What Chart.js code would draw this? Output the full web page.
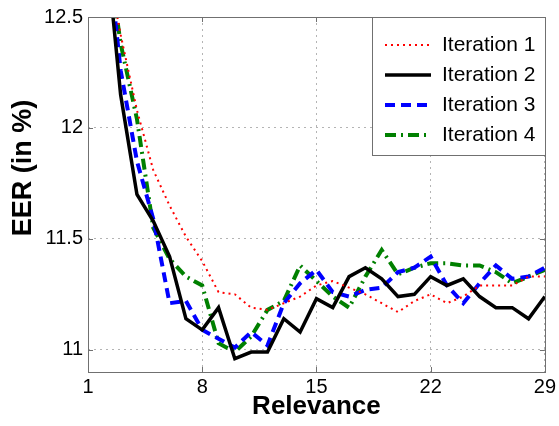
<!DOCTYPE html>
<html>
<head>
<meta charset="utf-8">
<script src="https://cdn.jsdelivr.net/npm/chart.js@4"></script>
<style>
  html, body { margin: 0; padding: 0; background: #fff; }
</style>
</head>
<body>
<canvas id="eerChart" width="559" height="426"></canvas>
<script>
// values (first points run off the top of the axes)
const relevance = [1, 2, 3, 4, 5, 6, 7, 8, 9, 10, 11, 12, 13, 14, 15, 16, 17, 18, 19, 20, 21, 22, 23, 24, 25, 26, 27, 28, 29];
const iter1 = [13.6, 12.82, 12.42, 12.08, 11.81, 11.65, 11.51, 11.4, 11.26, 11.25, 11.19, 11.18, 11.21, 11.24, 11.29, 11.31, 11.28, 11.25, 11.21, 11.17, 11.22, 11.25, 11.21, 11.24, 11.29, 11.29, 11.29, 11.33, 11.33];
const iter2 = [14.2, 12.9, 12.15, 11.7, 11.58, 11.42, 11.14, 11.09, 11.19, 10.96, 10.99, 10.99, 11.14, 11.08, 11.23, 11.19, 11.33, 11.37, 11.32, 11.24, 11.25, 11.33, 11.29, 11.32, 11.24, 11.19, 11.19, 11.14, 11.24];
const iter3 = [13.7, 12.95, 12.26, 11.85, 11.59, 11.21, 11.22, 11.09, 11.05, 11.01, 11.08, 11.02, 11.21, 11.3, 11.36, 11.26, 11.24, 11.27, 11.28, 11.35, 11.37, 11.42, 11.29, 11.21, 11.3, 11.38, 11.32, 11.33, 11.37];
const iter4 = [13.5, 12.9, 12.38, 12.04, 11.55, 11.41, 11.33, 11.29, 11.03, 10.99, 11.06, 11.18, 11.22, 11.38, 11.31, 11.24, 11.19, 11.33, 11.45, 11.34, 11.37, 11.39, 11.39, 11.38, 11.38, 11.35, 11.3, 11.33, 11.36];
const seriesNames = ["Iteration 1", "Iteration 2", "Iteration 3", "Iteration 4"];
const xTicks = [1, 8, 15, 22, 29];
const yTicks = [11, 11.5, 12, 12.5];

const toPoints = ys => ys.map((y, i) => ({ x: relevance[i], y }));
const FONT = "'Liberation Sans', Arial, sans-serif";

// box around the axes, inward tick marks, y title and the legend inside the plot
const frameAndLegend = {
  id: "frameAndLegend",
  afterDatasetsDraw(chart) {
    const { ctx, chartArea: a, scales } = chart;
    const seg = (x1, y1, x2, y2) => { ctx.beginPath(); ctx.moveTo(x1, y1); ctx.lineTo(x2, y2); ctx.stroke(); };
    ctx.save();
    ctx.strokeStyle = "#707070";
    ctx.lineWidth = 1;
    ctx.setLineDash([]);
    ctx.strokeRect(Math.round(a.left) + 0.5, Math.round(a.top) + 0.5, Math.round(a.right - a.left), Math.round(a.bottom - a.top));
    xTicks.forEach(v => {
      const px = Math.round(scales.x.getPixelForValue(v)) + 0.5;
      seg(px, a.bottom, px, a.bottom - 5);
      seg(px, a.top, px, a.top + 5);
    });
    yTicks.forEach(v => {
      const py = Math.round(scales.y.getPixelForValue(v)) + 0.5;
      seg(a.left, py, a.left + 5, py);
      seg(a.right, py, a.right - 5, py);
    });

    // y axis title, sits a bit above the middle like the original
    ctx.save();
    ctx.translate(24, 168);
    ctx.rotate(-Math.PI / 2);
    ctx.font = "bold 27px " + FONT;
    ctx.fillStyle = "#000";
    ctx.textAlign = "center";
    ctx.textBaseline = "middle";
    ctx.fillText("EER (in %)", 0, 0);
    ctx.restore();

    // legend
    const bx = Math.round(a.right) - 173, by = Math.round(a.top), bw = 173, bh = 138;
    ctx.fillStyle = "#fff";
    ctx.fillRect(bx, by, bw, bh);
    ctx.strokeStyle = "#707070";
    ctx.strokeRect(bx + 0.5, by + 0.5, bw, bh);
    ctx.font = "21px " + FONT;
    ctx.textBaseline = "middle";
    chart.data.datasets.forEach((ds, i) => {
      const y = by + 28 + i * 30;
      ctx.strokeStyle = ds.borderColor;
      ctx.lineWidth = ds.borderWidth;
      ctx.setLineDash(ds.borderDash || []);
      seg(bx + 13, y, bx + 59, y);
      ctx.setLineDash([]);
      ctx.fillStyle = "#000";
      ctx.fillText(ds.label, bx + 70, y);
    });
    ctx.restore();
  }
};

const ctx = document.getElementById("eerChart").getContext("2d");

new Chart(ctx, {
  type: "line",
  data: {
    datasets: [
      { label: seriesNames[0], data: toPoints(iter1), borderColor: "#ff0000", borderWidth: 2, borderDash: [2, 4] },
      { label: seriesNames[1], data: toPoints(iter2), borderColor: "#000000", borderWidth: 3.5 },
      { label: seriesNames[2], data: toPoints(iter3), borderColor: "#0000ff", borderWidth: 4, borderDash: [10, 6] },
      { label: seriesNames[3], data: toPoints(iter4), borderColor: "#008000", borderWidth: 4, borderDash: [11, 5, 2, 5] }
    ]
  },
  options: {
    responsive: false,
    animation: false,
    layout: { padding: { top: 14, right: 13, left: 0, bottom: 0 } },
    elements: {
      point: { radius: 0 },
      line: { tension: 0, fill: false, borderJoinStyle: "miter" }
    },
    plugins: {
      legend: { display: false },
      tooltip: { enabled: false }
    },
    scales: {
      x: {
        type: "linear",
        min: 1,
        max: 29,
        afterBuildTicks: s => { s.ticks = xTicks.map(v => ({ value: v })); },
        afterFit: s => { s.height = 54; },
        ticks: {
          padding: 3,
          color: "#000",
          font: { size: 20, family: FONT },
          callback: v => String(v)
        },
        grid: { color: "#b4b4b4", lineWidth: 1, drawTicks: false },
        border: { display: false, dash: [2, 4] },
        title: {
          display: true,
          text: "Relevance",
          color: "#000",
          padding: { top: 0, bottom: 4 },
          font: { size: 26, weight: "bold", family: FONT }
        }
      },
      y: {
        min: 10.9,
        max: 12.5,
        afterBuildTicks: s => { s.ticks = yTicks.map(v => ({ value: v })); },
        afterFit: s => { s.width = 88; },
        ticks: {
          padding: 5,
          color: "#000",
          font: { size: 20, family: FONT },
          callback: v => String(v)
        },
        grid: { color: "#b4b4b4", lineWidth: 1, drawTicks: false },
        border: { display: false, dash: [2, 4] },
        title: { display: false }
      }
    }
  },
  plugins: [frameAndLegend]
});
</script>
</body>
</html>
